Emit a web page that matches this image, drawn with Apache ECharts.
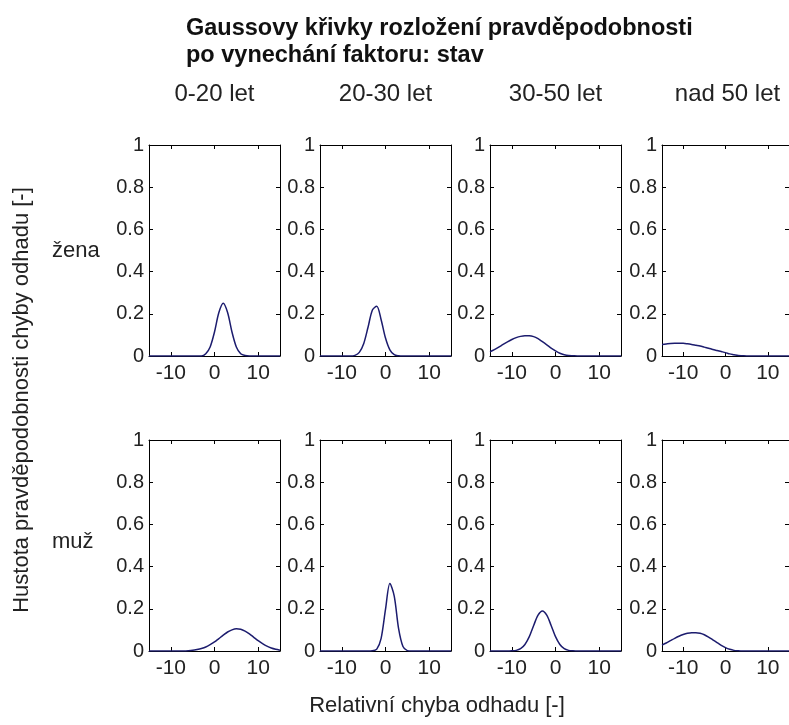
<!DOCTYPE html>
<html>
<head>
<meta charset="utf-8">
<script src="https://cdn.jsdelivr.net/npm/echarts@6/dist/echarts.min.js"></script>
<style>
html, body { margin: 0; padding: 0; background: #fff; }
#chart { width: 789px; height: 725px; }
</style>
</head>
<body>
<div id="chart"></div>
<script>
// x hodnoty (relativni chyba)
var xs = [-15, -14, -13, -12, -11, -10, -9, -8, -7, -6, -5, -4, -3, -2, -1, 0,
    1, 2, 3, 4, 5, 6, 7, 8, 9, 10, 11, 12, 13, 14, 15];
var xTicks = [-10, 0, 10];
var yTicks = [0, 0.2, 0.4, 0.6, 0.8, 1];
var colTitles = ['0-20 let', '20-30 let', '30-50 let', 'nad 50 let'];
var rowTitles = ['žena', 'muž'];

// žena
var zena0_20 = [0, 0, 0, 0, 0, 0, 0, 0, 0, 0, 0, 0, 0, 0.011, 0.043, 0.114,
    0.206, 0.25, 0.206, 0.114, 0.043, 0.011, 0.002, 0, 0, 0, 0, 0, 0, 0, 0];
var zena20_30 = [0, 0, 0, 0, 0, 0, 0, 0, 0.003, 0.017, 0.058, 0.136, 0.218, 0.236, 0.172, 0.085,
    0.029, 0.006, 0.001, 0, 0, 0, 0, 0, 0, 0, 0, 0, 0, 0, 0];
var zena30_50 = [0.02, 0.03, 0.042, 0.055, 0.067, 0.078, 0.087, 0.093, 0.096, 0.096, 0.092, 0.082, 0.068, 0.053, 0.037, 0.024,
    0.013, 0.006, 0.002, 0.001, 0, 0, 0, 0, 0, 0, 0, 0, 0, 0, 0];
var zenaNad50 = [0.055, 0.057, 0.059, 0.06, 0.06, 0.06, 0.058, 0.055, 0.051, 0.047, 0.042, 0.037, 0.031, 0.026, 0.021, 0.016,
    0.01, 0.006, 0.002, 0.001, 0, 0, 0, 0, 0, 0, 0, 0, 0, 0, 0];
// muž
var muz0_20 = [0, 0, 0, 0, 0, 0, 0, 0, 0, 0.001, 0.003, 0.007, 0.012, 0.019, 0.03, 0.043,
    0.059, 0.075, 0.09, 0.1, 0.105, 0.103, 0.094, 0.081, 0.065, 0.049, 0.035, 0.023, 0.014, 0.008, 0.004];
var muz20_30 = [0, 0, 0, 0, 0, 0, 0, 0, 0, 0, 0, 0, 0.001, 0.009, 0.06, 0.197,
    0.32, 0.26, 0.106, 0.021, 0.002, 0, 0, 0, 0, 0, 0, 0, 0, 0, 0];
var muz30_50 = [0, 0, 0, 0, 0, 0.001, 0.003, 0.011, 0.031, 0.068, 0.121, 0.17, 0.19, 0.17, 0.121, 0.068,
    0.031, 0.011, 0.003, 0.001, 0, 0, 0, 0, 0, 0, 0, 0, 0, 0, 0];
var muzNad50 = [0.028, 0.038, 0.049, 0.06, 0.07, 0.078, 0.084, 0.087, 0.087, 0.084, 0.077, 0.066, 0.053, 0.04, 0.027, 0.016,
    0.008, 0.003, 0.001, 0, 0, 0, 0, 0, 0, 0, 0, 0, 0, 0, 0];

var panels = [zena0_20, zena20_30, zena30_50, zenaNad50, muz0_20, muz20_30, muz30_50, muzNad50];

var FONT = '"Liberation Sans", Arial, sans-serif';
var txtColor = '#222';
var lineColor = '#1c1c6e';

// rozlozeni podgrafu
var colLeft = [149, 320, 490, 662];
var rowTop = [145, 440];
var gw = 131, gh = 211;

var grids = [], xAxes = [], yAxes = [], series = [];

panels.forEach(function(ys, i) {
    var r = Math.floor(i / 4), c = i % 4;
    grids.push({
        left: colLeft[c], top: rowTop[r], width: gw, height: gh,
        show: false
    });
    // spodni + horni osa x
    ['bottom', 'top'].forEach(function(pos) {
        xAxes.push({
            type: 'value', gridIndex: i, position: pos,
            min: -15, max: 15,
            splitLine: { show: false },
            axisLine: { show: true, onZero: false, lineStyle: { color: '#000', width: 1 } },
            axisTick: { show: true, inside: true, length: 4, customValues: xTicks, lineStyle: { color: '#000' } },
            axisLabel: {
                show: pos === 'bottom', customValues: xTicks,
                margin: 7, color: txtColor, fontSize: 21, fontFamily: FONT
            }
        });
    });
    // leva + prava osa y
    ['left', 'right'].forEach(function(pos) {
        yAxes.push({
            type: 'value', gridIndex: i, position: pos,
            min: 0, max: 1, interval: 0.2,
            splitLine: { show: false },
            axisLine: { show: true, onZero: false, lineStyle: { color: '#000', width: 1 } },
            axisTick: { show: true, inside: true, length: 4, lineStyle: { color: '#000' } },
            axisLabel: {
                show: pos === 'left',
                margin: 5, color: txtColor, fontSize: 20, fontFamily: FONT
            }
        });
    });
    series.push({
        type: 'line',
        xAxisIndex: i * 2, yAxisIndex: i * 2,
        data: xs.map(function(x, k) { return [x, ys[k]]; }),
        showSymbol: false,
        smooth: 0.3,
        clip: true,
        lineStyle: { color: lineColor, width: 1.5 }
    });
});

var graphics = [
    { type: 'text', x: 186, y: 29, style: { text: 'Gaussovy křivky rozložení pravděpodobnosti', font: 'bold 23.5px ' + FONT, fill: '#111', verticalAlign: 'middle' } },
    { type: 'text', x: 186, y: 56, style: { text: 'po vynechání faktoru: stav', font: 'bold 23.5px ' + FONT, fill: '#111', verticalAlign: 'middle' } },
    { type: 'text', x: 437, y: 706, style: { text: 'Relativní chyba odhadu [-]', font: '22px ' + FONT, fill: txtColor, align: 'center', verticalAlign: 'middle' } },
    { type: 'text', x: 22, y: 400, rotation: Math.PI / 2, style: { text: 'Hustota pravděpodobnosti chyby odhadu [-]', font: '22px ' + FONT, fill: txtColor, align: 'center', verticalAlign: 'middle' } }
];
colTitles.forEach(function(t, c) {
    graphics.push({ type: 'text', x: colLeft[c] + gw / 2, y: 94, style: { text: t, font: '24px ' + FONT, fill: txtColor, align: 'center', verticalAlign: 'middle' } });
});
rowTitles.forEach(function(t, r) {
    graphics.push({ type: 'text', x: 52, y: rowTop[r] + [106, 102][r], style: { text: t, font: '22px ' + FONT, fill: txtColor, verticalAlign: 'middle' } });
});

var chart = echarts.init(document.getElementById('chart'));
chart.setOption({
    animation: false,
    backgroundColor: '#fff',
    grid: grids,
    xAxis: xAxes,
    yAxis: yAxes,
    series: series,
    graphic: graphics
});
</script>
</body>
</html>
